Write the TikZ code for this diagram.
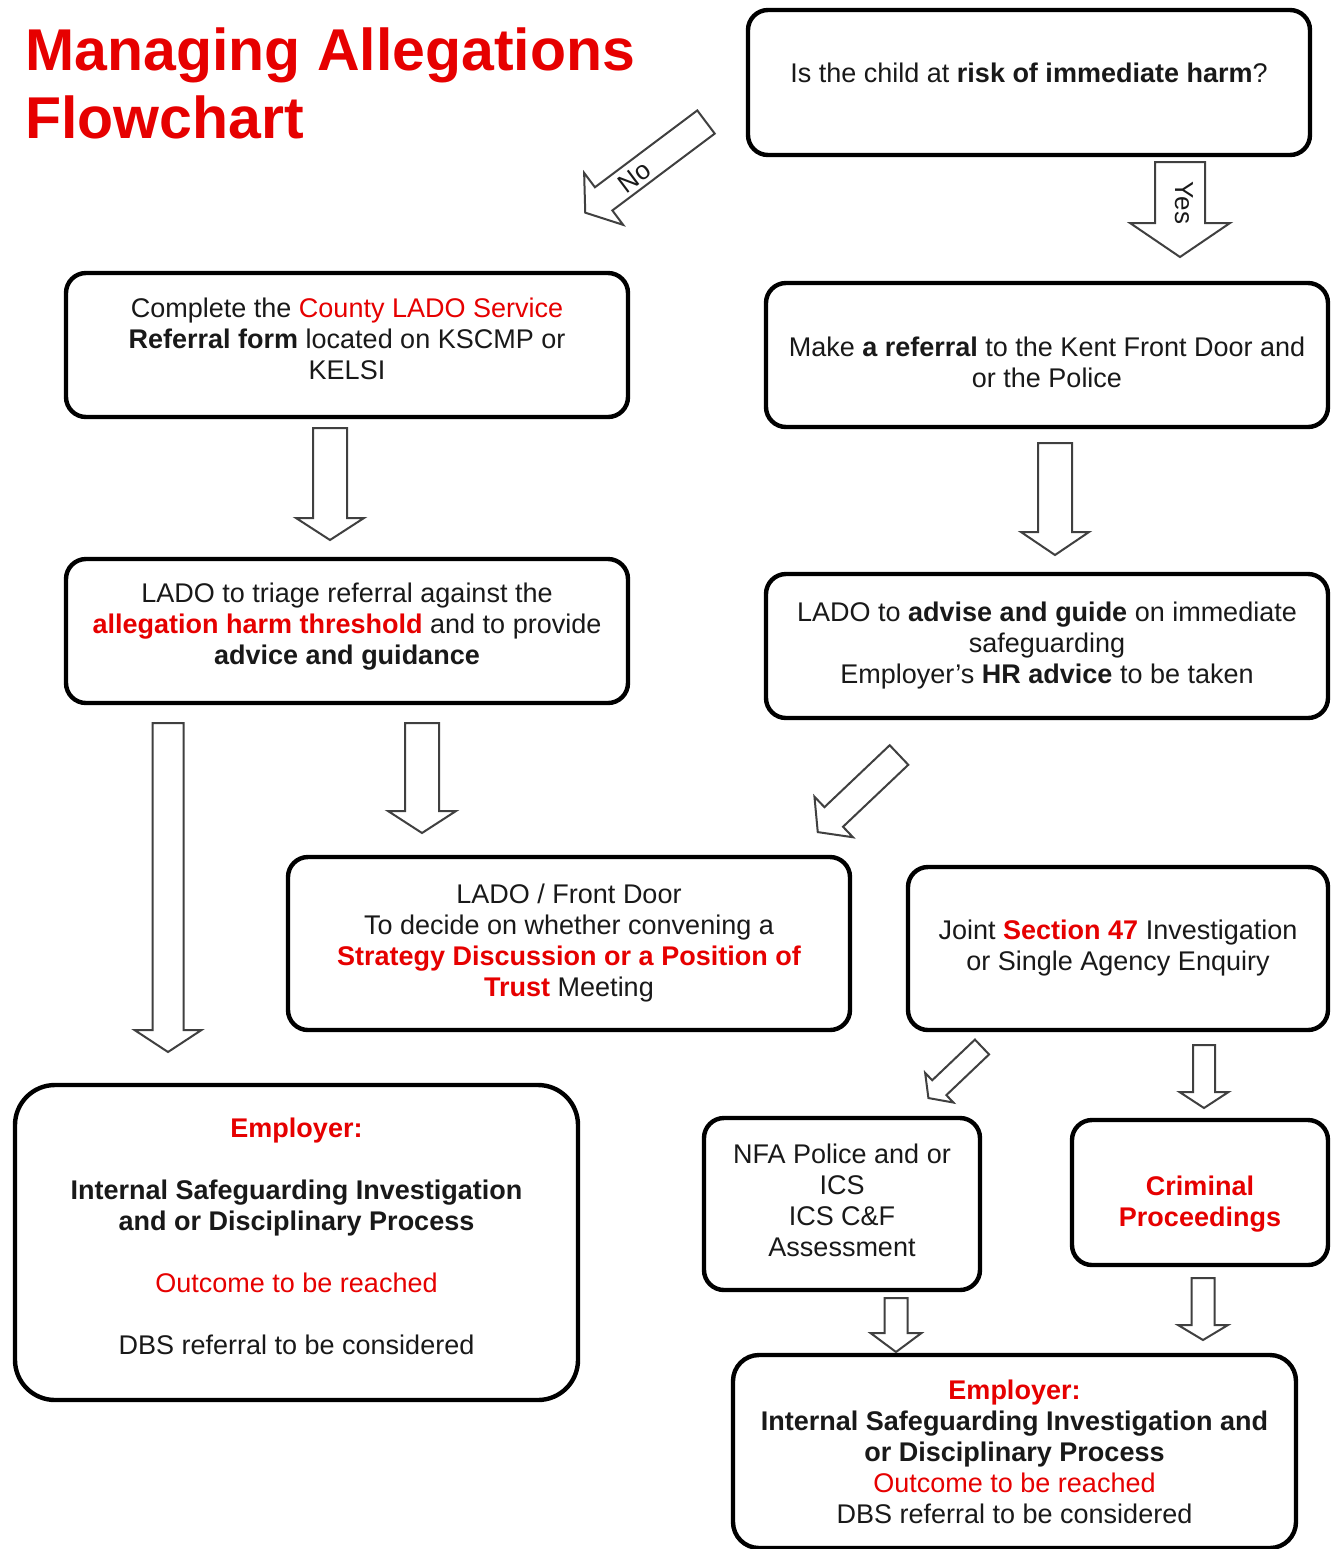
\documentclass[tikz,border=0pt]{standalone}
\usepackage{fontspec}
\setmainfont{Liberation Sans}
\definecolor{rd}{RGB}{230,0,0}
\definecolor{ink}{RGB}{25,25,25}
\newcommand{\blkarr}[6]{% tail x,y ; angle ; length ; shaft w ; head w ; head length
  \begin{scope}[shift={(#1)}, rotate=#2]
    \draw[blk] (0,-#4/2) -- (#3-#6,-#4/2) -- (#3-#6,-#5/2) -- (#3,0)
      -- (#3-#6,#5/2) -- (#3-#6,#4/2) -- (0,#4/2) -- cycle;
  \end{scope}}
\newcommand{\up}[1]{\rule[-#1]{0pt}{0pt}}
\newcommand{\dn}[1]{\rule{0pt}{#1}}
\begin{document}
\begin{tikzpicture}[x=0.5pt, y=-0.5pt,
  box/.style={draw=black, line width=2.2pt, rounded corners=10pt, align=center,
    inner sep=0pt, font=\fontsize{13.5pt}{15.5pt}\selectfont, text=ink},
  blk/.style={draw=black!75, line width=1pt, fill=white, line join=miter},
  ttl/.style={font=\fontsize{29.5pt}{34pt}\selectfont\bfseries, text=rd,
    inner sep=0pt, anchor=base west},
  lbl/.style={font=\fontsize{13pt}{15pt}\selectfont, inner sep=0pt, text=ink}]
\useasboundingbox[fill=white] (0,0) rectangle (1335,1549);

% title
\node[ttl] (title1) at (25,70) {Managing Allegations};
\node[ttl] (title2) at (25,138) {Flowchart};

% boxes
\node[box, minimum width=281pt, minimum height=72.5pt, text depth=9.5pt] (A) at (1029,82.5)
  {Is the child at \textbf{risk of immediate harm}?};
\node[box, minimum width=281pt, minimum height=72pt] (B) at (347,345)
  {Complete the {\color{rd}County LADO Service}\\
   \textbf{Referral form} located on KSCMP or\\ KELSI\up{6pt}};
\node[box, minimum width=281pt, minimum height=72pt] (C) at (1047,355)
  {\dn{16.9pt}Make \textbf{a referral} to the Kent Front Door and\\ or the Police};
\node[box, minimum width=281pt, minimum height=72pt] (D) at (347,631)
  {LADO to triage referral against the\\
   {\color{rd}\textbf{allegation harm threshold}} and to provide\\
   \textbf{advice and guidance}\up{6.8pt}};
\node[box, minimum width=281pt, minimum height=72pt] (E) at (1047,646)
  {LADO to \textbf{advise and guide} on immediate\\ safeguarding\\
   Employer's \textbf{HR advice} to be taken};
\node[box, minimum width=281pt, minimum height=86.5pt] (F) at (569,943.5)
  {LADO / Front Door\\ To decide on whether convening a\\
   {\color{rd}\textbf{Strategy Discussion or a Position of}}\\
   {\color{rd}\textbf{Trust}} Meeting};
\node[box, minimum width=210pt, minimum height=81.5pt] (G) at (1118,948.5)
  {Joint {\color{rd}\textbf{Section 47}} Investigation\\ or Single Agency Enquiry};
\node[box, rounded corners=20pt, minimum width=281.5pt, minimum height=157.5pt] (H) at (296.5,1242.5)
  {{\color{rd}\textbf{Employer:}}\\[15.5pt]
   \textbf{Internal Safeguarding Investigation}\\
   \textbf{and or Disciplinary Process}\\[15.5pt]
   {\color{rd}Outcome to be reached}\\[15.5pt]
   DBS referral to be considered\up{6pt}};
\node[box, minimum width=138pt, minimum height=86pt] (I) at (842,1204)
  {NFA Police and or\\ ICS\\ ICS C\&F\\ Assessment\up{4pt}};
\node[box, minimum width=128pt, minimum height=72.5pt] (J) at (1200,1192.5)
  {\dn{20.9pt}{\color{rd}\textbf{Criminal}}\\ {\color{rd}\textbf{Proceedings}}};
\node[box, rounded corners=13pt, minimum width=281.5pt, minimum height=96.5pt] (K) at (1014.5,1451.5)
  {{\color{rd}\textbf{Employer:}}\\
   \textbf{Internal Safeguarding Investigation and}\\
   \textbf{or Disciplinary Process}\\
   {\color{rd}Outcome to be reached}\\
   DBS referral to be considered};

% block arrows
\blkarr{706,122}{216.9}{151}{29}{65}{23}
\node[lbl, rotate=36.9] (noLbl) at (634,177) {No};
\blkarr{1180,162}{-90}{95}{50}{100}{34}
\node[lbl, rotate=-90] (yesLbl) at (1184,203) {Yes};
\blkarr{330,428}{-90}{112}{34}{68}{22}
\blkarr{1055,443}{-90}{112}{34}{68}{23}
\blkarr{168,723}{-90}{329}{31}{67}{22}
\blkarr{422,723}{-90}{110}{34}{68}{22}
\blkarr{899,755}{223.5}{112}{27}{56}{22}
\blkarr{982,1047}{223.6}{74}{20.5}{41}{15}
\blkarr{1204,1045}{-90}{63}{22}{49}{16}
\blkarr{896,1298}{-90}{54}{23}{51}{19}
\blkarr{1203,1278}{-90}{62}{23}{50}{15}
\end{tikzpicture}
\end{document}
